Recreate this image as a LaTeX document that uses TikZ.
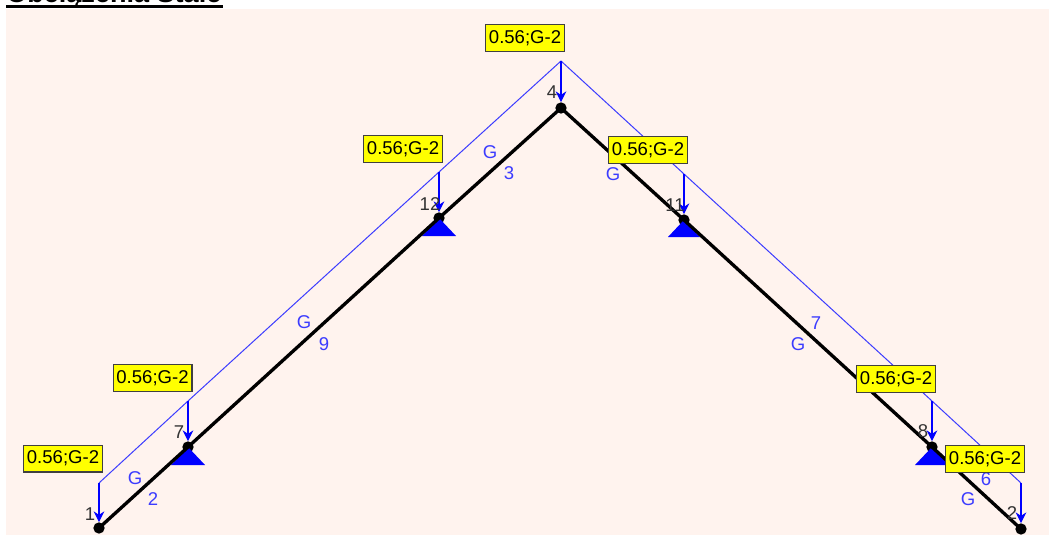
\documentclass[tikz,border=0pt]{standalone}
\usepackage{fontspec}
\setmainfont{Liberation Sans}
\usepackage{xcolor}
\usetikzlibrary{arrows.meta}
\definecolor{paper}{RGB}{255,243,238}
\definecolor{loadblue}{RGB}{60,60,255}
\definecolor{tagyellow}{RGB}{255,255,0}
\tikzset{
    joint/.style={circle,fill=black,inner sep=0pt,minimum size=8.5pt},
    loadpt/.style={inner sep=0pt,minimum size=0pt},
    tag/.style={draw=black!75,line width=1pt,fill=tagyellow,font=\fontsize{13.9}{15}\selectfont,minimum width=59pt,minimum height=20pt,inner sep=0pt},
    jointno/.style={font=\fontsize{13.9}{15}\selectfont,text=black!80,inner sep=0pt},
    memberno/.style={font=\fontsize{13.9}{15}\selectfont,text=loadblue,inner sep=0pt},
    support/.style={fill=blue},
    force/.style={blue,line width=1pt,-{Stealth[length=8pt,width=8pt]}}
}
\begin{document}
\begin{tikzpicture}[x=0.75pt,y=-0.75pt]
        \useasboundingbox (0,0) rectangle (1049,535);
        \fill[paper] (6,9) rectangle (1049,535);
        \node[anchor=base west,inner sep=0pt,font=\bfseries\fontsize{20.3}{22}\selectfont] (title) at (6,2.5) {Obciążenia Stałe};
        \coordinate (ruleL) at (6,6.3);
        \coordinate (ruleR) at (223,6.3);
        \draw[line width=2.2pt] (ruleL) -- (ruleR);
        \node[joint] (n1) at (99,528) {};
        \node[joint] (n7) at (188,447) {};
        \node[joint] (n12) at (439,218) {};
        \node[joint] (n4) at (561,108) {};
        \node[joint] (n11) at (684,220) {};
        \node[joint] (n8) at (932,447) {};
        \node[joint] (n2) at (1021,529) {};
        \node[loadpt] (p1) at (99,483) {};
        \node[loadpt] (p7) at (188,401) {};
        \node[loadpt] (p12) at (439,172) {};
        \node[loadpt] (p4) at (561,61) {};
        \node[loadpt] (p11) at (684,174) {};
        \node[loadpt] (p8) at (932,401) {};
        \node[loadpt] (p2) at (1021,483) {};
        \draw[loadblue,line width=0.75pt] (p1.center) -- (p7.center) -- (p12.center) -- (p4.center) -- (p11.center) -- (p8.center) -- (p2.center);
        \fill[support] (188,447) -- (205,465) -- (171,465) -- cycle;
        \fill[support] (439,218) -- (456,236) -- (422,236) -- cycle;
        \fill[support] (684,220) -- (700,237) -- (668,237) -- cycle;
        \fill[support] (932,447) -- (949,465) -- (915,465) -- cycle;
        \draw[black,line width=2.5pt] (n1.center) -- (n7.center) -- (n12.center) -- (n4.center) -- (n11.center) -- (n8.center) -- (n2.center);
        \draw[force] (p1.center) -- (n1);
        \draw[force] (p7.center) -- (n7);
        \draw[force] (p12.center) -- (n12);
        \draw[force] (p4.center) -- (n4);
        \draw[force] (p11.center) -- (n11);
        \draw[force] (p8.center) -- (n8);
        \draw[force] (p2.center) -- (n2);
        \node[jointno] (j1) at (90,514) {1};
        \node[jointno] (j7) at (179,432) {7};
        \node[jointno] (j12) at (430,204) {12};
        \node[jointno] (j4) at (552,92) {4};
        \node[jointno] (j11) at (675,205) {11};
        \node[jointno] (j8) at (923,431) {8};
        \node[jointno] (j2) at (1012,513) {2};
        \node[memberno] (m2) at (153,499) {2};
        \node[memberno] (m9) at (324,344) {9};
        \node[memberno] (m3) at (509,173) {3};
        \node[memberno] (m7) at (816,323) {7};
        \node[memberno] (m6) at (986,479) {6};
        \node[memberno] (g2) at (135,478) {G};
        \node[memberno] (g9) at (304,322) {G};
        \node[memberno] (g3) at (490,152) {G};
        \node[memberno] (g5) at (613,174) {G};
        \node[memberno] (g7) at (798,344) {G};
        \node[memberno] (g6) at (968,499) {G};
        \node[tag] (t1) at (63,458.5) {0.56;G-2};
        \node[tag] (t7) at (152.5,378) {0.56;G-2};
        \node[tag] (t12) at (403,149) {0.56;G-2};
        \node[tag] (t4) at (525,38) {0.56;G-2};
        \node[tag] (t11) at (648,150) {0.56;G-2};
        \node[tag] (t8) at (896,379) {0.56;G-2};
        \node[tag] (t2) at (985,459) {0.56;G-2};
    \end{tikzpicture}
\end{document}
